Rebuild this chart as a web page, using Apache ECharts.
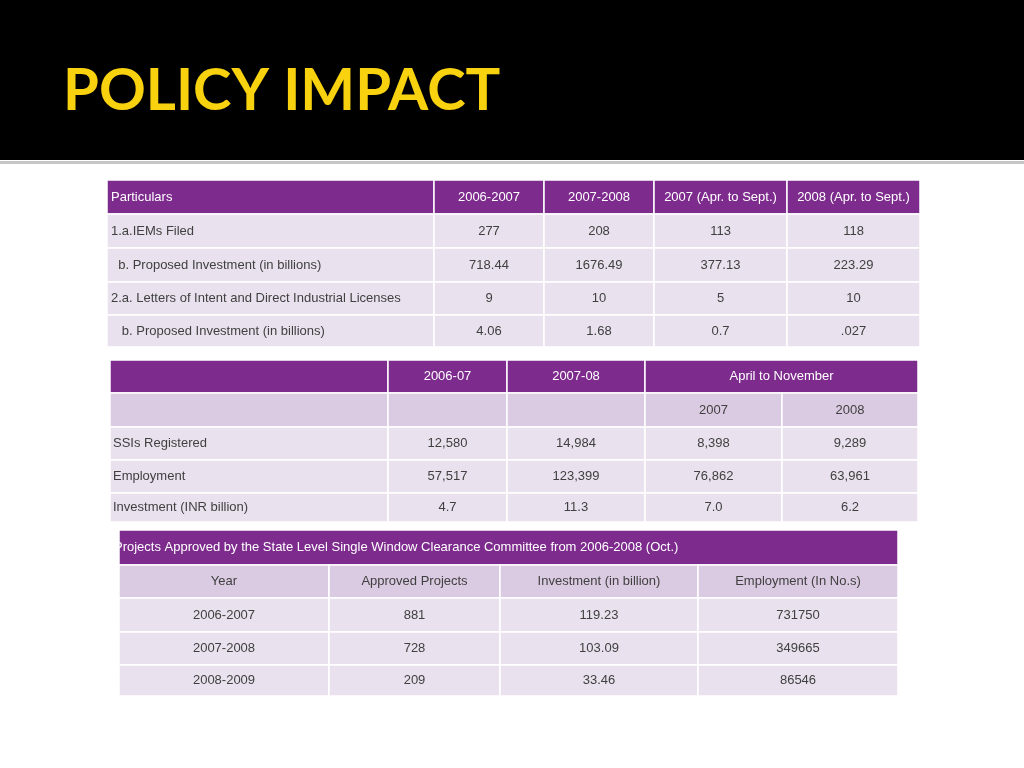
<!DOCTYPE html>
<html>
<head>
<meta charset="utf-8">
<title>Policy Impact</title>
<script src="https://cdn.jsdelivr.net/npm/echarts@6/dist/echarts.min.js"></script>
<style>
  html, body { margin: 0; padding: 0; background: #fff; }
  #chart { width: 1024px; height: 768px; }
</style>
</head>
<body>
<div id="chart"></div>
<script>
// ---- table 1 : IEMs / LOIs ----
const t1Head = ['Particulars', '2006-2007', '2007-2008', '2007 (Apr. to Sept.)', '2008 (Apr. to Sept.)'];
const t1Rows = [
  '1.a.IEMs Filed',
  '  b. Proposed Investment (in billions)',
  '2.a. Letters of Intent and Direct Industrial Licenses',
  '   b. Proposed Investment (in billions)'
];
const t1Values = [
  ['277', '208', '113', '118'],
  ['718.44', '1676.49', '377.13', '223.29'],
  ['9', '10', '5', '10'],
  ['4.06', '1.68', '0.7', '.027']
];

// ---- table 2 : SSIs ----
const t2Head = ['', '2006-07', '2007-08', 'April to November'];
const t2Sub = ['', '', '', '2007', '2008'];
const t2Rows = ['SSIs Registered', 'Employment', 'Investment (INR billion)'];
const t2Values = [
  ['12,580', '14,984', '8,398', '9,289'],
  ['57,517', '123,399', '76,862', '63,961'],
  ['4.7', '11.3', '7.0', '6.2']
];

// ---- table 3 : single window committee ----
const t3Title = 'Projects Approved by the State Level Single Window Clearance Committee from 2006-2008 (Oct.)';
const t3Head = ['Year', 'Approved Projects', 'Investment (in billion)', 'Employment (In No.s)'];
const t3Years = ['2006-2007', '2007-2008', '2008-2009'];
const t3Projects = ['881', '728', '209'];
const t3Investment = ['119.23', '103.09', '33.46'];
const t3Employment = ['731750', '349665', '86546'];

// layout (pixels): column / row edges relative to each table's corner
const L1 = { left: 107, top: 180, cols: [0, 327, 437, 547, 680, 813], rows: [0, 34, 68, 102, 135, 167] };
const L2 = { left: 110, top: 360, cols: [0, 278, 397, 535, 672, 808], rows: [0, 33, 67, 100, 133, 162] };
const L3 = { left: 119, top: 530, cols: [0, 210, 381, 579, 779], rows: [0, 35, 68, 102, 135, 166] };

const STYLE = {
  head: { fill: '#7e2b8e', color: '#ffffff' },
  sub: { fill: '#dacbe2', color: '#404040' },
  body: { fill: '#e9e2ee', color: '#404040' }
};
const FONT = '13px "Liberation Sans", Arial, sans-serif';

function cell(L, r, c, span, text, kind, align, pad) {
  return {
    x0: L.cols[c], x1: L.cols[c + span], y0: L.rows[r], y1: L.rows[r + 1],
    text: text, kind: kind, align: align || 'center', pad: pad || 0
  };
}

// table 1 cells
const c1 = [];
t1Head.forEach((t, i) => c1.push(cell(L1, 0, i, 1, t, 'head', i === 0 ? 'left' : 'center', 4)));
t1Rows.forEach((name, r) => {
  c1.push(cell(L1, r + 1, 0, 1, name, 'body', 'left', 4));
  t1Values[r].forEach((v, i) => c1.push(cell(L1, r + 1, i + 1, 1, v, 'body')));
});

// table 2 cells
const c2 = [];
t2Head.forEach((t, i) => c2.push(cell(L2, 0, i, i === 3 ? 2 : 1, t, 'head')));
t2Sub.forEach((t, i) => c2.push(cell(L2, 1, i, 1, t, 'sub')));
t2Rows.forEach((name, r) => {
  c2.push(cell(L2, r + 2, 0, 1, name, 'body', 'left', 3));
  t2Values[r].forEach((v, i) => c2.push(cell(L2, r + 2, i + 1, 1, v, 'body')));
});

// table 3 cells
const c3 = [];
c3.push(cell(L3, 0, 0, 4, t3Title, 'head', 'left', -5));
t3Head.forEach((t, i) => c3.push(cell(L3, 1, i, 1, t, 'sub')));
t3Years.forEach((y, r) => {
  [y, t3Projects[r], t3Investment[r], t3Employment[r]].forEach((v, i) =>
    c3.push(cell(L3, r + 2, i, 1, v, 'body')));
});

const tables = [[L1, c1], [L2, c2], [L3, c3]];

function renderCell(cells) {
  return function (params, api) {
    const it = cells[params.dataIndex];
    const p0 = api.coord([api.value(0), api.value(2)]);
    const p1 = api.coord([api.value(1), api.value(3)]);
    const w = p1[0] - p0[0];
    const h = p1[1] - p0[1];
    const st = STYLE[it.kind];
    const tx = it.align === 'left' ? p0[0] + it.pad : p0[0] + w / 2;
    return {
      type: 'group',
      children: [
        { type: 'rect', shape: { x: p0[0], y: p0[1], width: w, height: h },
          style: { fill: st.fill, stroke: '#ffffff', lineWidth: 1.5 } },
        { type: 'text', x: tx, y: p0[1] + h / 2,
          style: { text: it.text, fill: st.color, font: FONT, align: it.align, verticalAlign: 'middle' } }
      ]
    };
  };
}

const chart = echarts.init(document.getElementById('chart'));
chart.setOption({
  backgroundColor: '#ffffff',
  animation: false,
  graphic: [
    { type: 'rect', shape: { x: 0, y: 0, width: 1024, height: 160 }, style: { fill: '#000000' } },
    { type: 'rect', shape: { x: 0, y: 161, width: 1024, height: 3 }, style: { fill: '#c6c6c6' } },
    { type: 'text', x: 63, y: 91,
      style: { text: 'POLICY IMPACT', fill: '#f8d10f', font: 'bold 58px Lato, "Open Sans", sans-serif', verticalAlign: 'middle' } }
  ],
  grid: tables.map(([L]) => ({
    left: L.left, top: L.top,
    width: L.cols[L.cols.length - 1], height: L.rows[L.rows.length - 1]
  })),
  xAxis: tables.map(([L], i) => ({
    type: 'value', gridIndex: i, min: 0, max: L.cols[L.cols.length - 1], show: false
  })),
  yAxis: tables.map(([L], i) => ({
    type: 'value', gridIndex: i, min: 0, max: L.rows[L.rows.length - 1], inverse: true, show: false
  })),
  series: tables.map(([L, cells], i) => ({
    type: 'custom',
    xAxisIndex: i,
    yAxisIndex: i,
    clip: true,
    silent: true,
    encode: { x: [0, 1], y: [2, 3] },
    renderItem: renderCell(cells),
    data: cells.map(c => [c.x0, c.x1, c.y0, c.y1])
  }))
});
</script>
</body>
</html>
